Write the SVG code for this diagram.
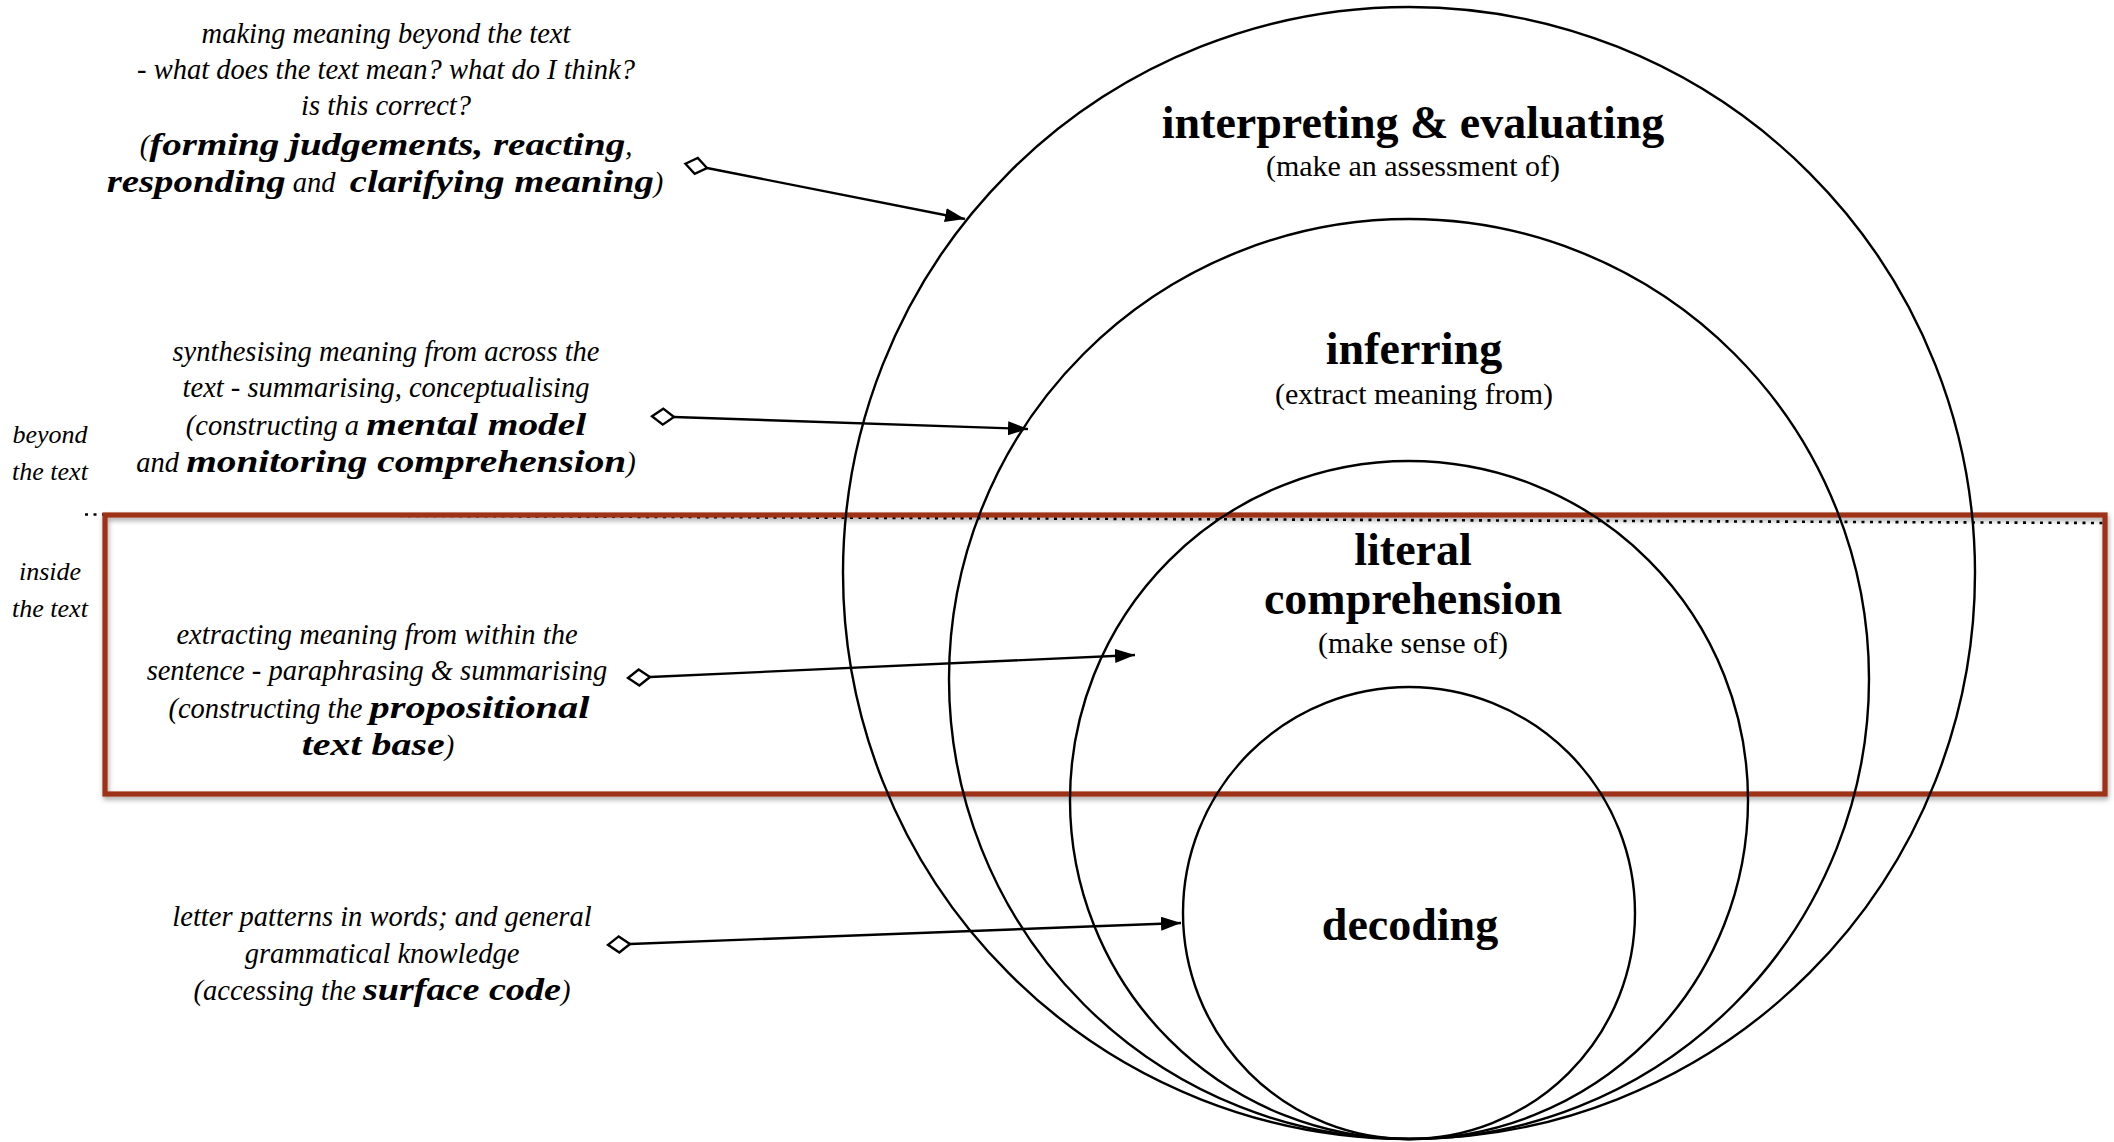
<svg xmlns="http://www.w3.org/2000/svg" width="2114" height="1142" viewBox="0 0 2114 1142">
<style>
.it{font-family:"Liberation Serif","Times New Roman",serif;font-style:italic;font-size:28.5px;fill:#000;text-anchor:middle}
.side{font-family:"Liberation Serif","Times New Roman",serif;font-style:italic;font-size:26px;fill:#000;text-anchor:middle}
.b{font-weight:bold;font-size:32.5px}
.lbl{font-family:"Liberation Serif","Times New Roman",serif;font-weight:bold;font-size:46px;fill:#000;text-anchor:middle}
.sub{font-family:"Liberation Serif","Times New Roman",serif;font-size:30px;fill:#000;text-anchor:middle}
.ring{fill:none;stroke:#000;stroke-width:2.4}
.conn{fill:none;stroke:#000;stroke-width:2.4}
</style>
<defs>
<filter id="shadow" x="-5%" y="-10%" width="110%" height="120%">
<feDropShadow dx="1" dy="3" stdDeviation="2.5" flood-color="#000" flood-opacity="0.35"/>
</filter>
<marker id="head" markerUnits="userSpaceOnUse" markerWidth="22" markerHeight="16" refX="20" refY="7" orient="auto">
<path d="M0,0 L20,7 L0,14 z" fill="#000"/>
</marker>
<marker id="dia" markerUnits="userSpaceOnUse" markerWidth="28" markerHeight="22" refX="24" refY="10.5" orient="auto">
<path d="M2,10.5 L13,2.5 L24,10.5 L13,18.5 z" fill="#fff" stroke="#000" stroke-width="2.4"/>
</marker>
</defs>
<rect width="2114" height="1142" fill="#fff"/>

<line x1="85" y1="514.5" x2="2104" y2="523" stroke="#000" stroke-width="2.6" stroke-dasharray="3 5.5"/>
<rect id="inside-box" x="105" y="515" width="2000" height="279" fill="none" stroke="#9e3015" stroke-width="5.2" filter="url(#shadow)"/>

<g id="node-interpreting">
<circle class="ring" cx="1409" cy="573" r="566"/>
<text class="lbl" x="1413" y="138">interpreting &amp; evaluating</text>
<text class="sub" x="1413" y="176">(make an assessment of)</text>
</g>
<g id="node-inferring">
<circle class="ring" cx="1409" cy="679" r="460"/>
<text class="lbl" x="1414" y="364">inferring</text>
<text class="sub" x="1414" y="404">(extract meaning from)</text>
</g>
<g id="node-literal">
<circle class="ring" cx="1409" cy="800" r="339"/>
<text class="lbl" x="1413" y="565">literal</text>
<text class="lbl" x="1413" y="614">comprehension</text>
<text class="sub" x="1413" y="653">(make sense of)</text>
</g>
<g id="node-decoding">
<circle class="ring" cx="1409" cy="913" r="226"/>
<text class="lbl" x="1410" y="940">decoding</text>
</g>

<g id="side-labels">
<text class="side" x="50" y="443">beyond</text>
<text class="side" x="50" y="480">the text</text>
<text class="side" x="50" y="580">inside</text>
<text class="side" x="50" y="617">the text</text>
</g>

<g id="note-evaluating">
<text class="it" x="386" y="43">making meaning beyond the text</text>
<text class="it" x="386" y="79">- what does the text mean? what do I think?</text>
<text class="it" x="386" y="115">is this correct?</text>
<text class="it" x="386" y="155">(<tspan class="b" textLength="476" lengthAdjust="spacingAndGlyphs">forming judgements, reacting</tspan>,</text>
<text class="it" x="385" y="192" xml:space="preserve"><tspan class="b" textLength="179" lengthAdjust="spacingAndGlyphs">responding</tspan> and  <tspan class="b" textLength="304" lengthAdjust="spacingAndGlyphs">clarifying meaning</tspan>)</text>
</g>
<g id="note-inferring">
<text class="it" x="386" y="361">synthesising meaning from across the</text>
<text class="it" x="386" y="397">text - summarising, conceptualising</text>
<text class="it" x="386" y="435">(constructing a <tspan class="b" textLength="220" lengthAdjust="spacingAndGlyphs">mental model</tspan></text>
<text class="it" x="386" y="472">and <tspan class="b" textLength="440" lengthAdjust="spacingAndGlyphs">monitoring comprehension</tspan>)</text>
</g>
<g id="note-literal">
<text class="it" x="377" y="644">extracting meaning from within the</text>
<text class="it" x="377" y="680">sentence - paraphrasing &amp; summarising</text>
<text class="it" x="379" y="718">(constructing the <tspan class="b" textLength="220" lengthAdjust="spacingAndGlyphs">propositional</tspan></text>
<text class="it" x="378" y="755"><tspan class="b" textLength="143" lengthAdjust="spacingAndGlyphs">text base</tspan>)</text>
</g>
<g id="note-decoding">
<text class="it" x="382" y="926">letter patterns in words; and general</text>
<text class="it" x="382" y="963">grammatical knowledge</text>
<text class="it" x="382" y="1000">(accessing the <tspan class="b" textLength="198" lengthAdjust="spacingAndGlyphs">surface code</tspan>)</text>
</g>

<g id="connectors">
<line class="conn" x1="707" y1="168" x2="965" y2="219" marker-start="url(#dia)" marker-end="url(#head)"/>
<line class="conn" x1="674" y1="417" x2="1028" y2="429" marker-start="url(#dia)" marker-end="url(#head)"/>
<line class="conn" x1="650" y1="677" x2="1135" y2="655" marker-start="url(#dia)" marker-end="url(#head)"/>
<line class="conn" x1="630" y1="944" x2="1181" y2="923" marker-start="url(#dia)" marker-end="url(#head)"/>
</g>
</svg>
